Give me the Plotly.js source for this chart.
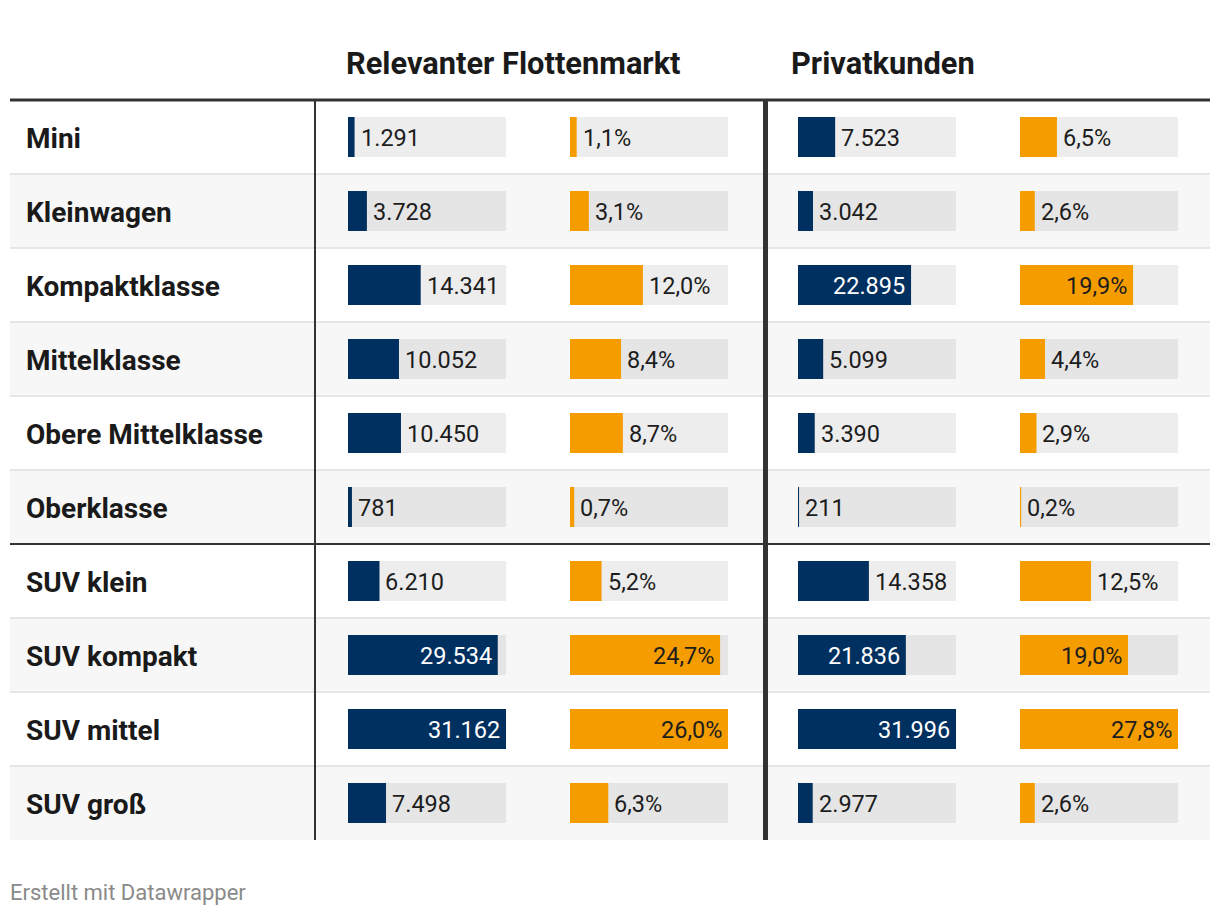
<!DOCTYPE html>
<html><head><meta charset="utf-8">
<script src="https://cdn.plot.ly/plotly-3.0.1.min.js"></script>
<style>body{margin:0;background:#fff}#chart{width:1220px;height:916px}</style>
</head><body><div id="chart"></div>
<script>
const categories = ['Mini','Kleinwagen','Kompaktklasse','Mittelklasse','Obere Mittelklasse','Oberklasse','SUV klein','SUV kompakt','SUV mittel','SUV groß'];
const flotteAnzahl = [1291,3728,14341,10052,10450,781,6210,29534,31162,7498];
const flotteAnteil = [1.1,3.1,12.0,8.4,8.7,0.7,5.2,24.7,26.0,6.3];
const privatAnzahl = [7523,3042,22895,5099,3390,211,14358,21836,31996,2977];
const privatAnteil = [6.5,2.6,19.9,4.4,2.9,0.2,12.5,19.0,27.8,2.6];
const groupTitles = ['Relevanter Flottenmarkt','Privatkunden'];
const footerText = 'Erstellt mit Datawrapper';

const W = 1220, H = 916;
const NAVY = '#00305f', ORANGE = '#f59c00';
const px = v => v / W;

function fmtInt(v){ return String(v).replace(/\B(?=(\d{3})+(?!\d))/g, '.'); }
function fmtPct(v){ return v.toFixed(1).replace('.', ',') + '%'; }

const columns = [
  {data: flotteAnzahl, color: NAVY, fmt: fmtInt, inText: '#ffffff', dom: [348, 506]},
  {data: flotteAnteil, color: ORANGE, fmt: fmtPct, inText: '#1d1d1d', dom: [570, 728]},
  {data: privatAnzahl, color: NAVY, fmt: fmtInt, inText: '#ffffff', dom: [798, 956]},
  {data: privatAnteil, color: ORANGE, fmt: fmtPct, inText: '#1d1d1d', dom: [1020, 1178]}
];

const traces = [];
const annotations = [];
const layout = {
  width: W, height: H,
  margin: {l: 0, r: 0, t: 100, b: 76},
  paper_bgcolor: '#ffffff', plot_bgcolor: 'rgba(0,0,0,0)',
  barmode: 'overlay', showlegend: false,
  font: {family: 'Roboto, sans-serif', color: '#1d1d1d'},
  yaxis: {type: 'category', categoryorder: 'array', categoryarray: categories,
          range: [categories.length - 0.5, -0.5], visible: false, fixedrange: true, domain: [0, 1]},
  annotations: annotations,
  shapes: []
};

columns.forEach((c, k) => {
  const ax = k === 0 ? 'x' : 'x' + (k + 1);
  const axName = k === 0 ? 'xaxis' : 'xaxis' + (k + 1);
  const max = Math.max(...c.data);
  layout[axName] = {domain: [px(c.dom[0]), px(c.dom[1])], range: [0, max], visible: false,
                    fixedrange: true, anchor: 'y'};
  traces.push({type: 'bar', orientation: 'h', y: categories, x: categories.map(() => max),
               xaxis: ax, yaxis: 'y', width: 0.54, marker: {color: 'rgba(0,0,0,0.07)', line: {width: 0}},
               hoverinfo: 'skip'});
  traces.push({type: 'bar', orientation: 'h', y: categories, x: c.data,
               xaxis: ax, yaxis: 'y', width: 0.54, marker: {color: c.color, line: {width: 0}},
               hoverinfo: 'skip'});
  c.data.forEach((v, i) => {
    const inside = v / max > 0.55;
    annotations.push({xref: ax, yref: 'y', x: v, y: categories[i], text: c.fmt(v),
      showarrow: false, xanchor: inside ? 'right' : 'left', xshift: inside ? -4 : 4, yshift: -1,
      font: {family: 'Roboto', size: 23.5, color: inside ? c.inText : '#1d1d1d'}});
  });
});

// row labels
categories.forEach((cat, i) => {
  annotations.push({xref: 'paper', yref: 'y', x: px(24), y: cat, text: cat, showarrow: false,
    xanchor: 'left', yshift: -1, font: {family: 'Roboto', size: 28, weight: 700, color: '#1a1a1a'}});
});

// group titles
[[groupTitles[0], 344], [groupTitles[1], 789]].forEach(([t, x]) => {
  annotations.push({xref: 'paper', yref: 'paper', x: px(x), y: 1, yshift: 37, yanchor: 'middle',
    xanchor: 'left', text: t, showarrow: false,
    font: {family: 'Roboto', size: 30.8, weight: 700, color: '#1a1a1a'}});
});

annotations.push({xref: 'paper', yref: 'paper', x: px(8), y: 0, yshift: -52, yanchor: 'middle',
  xanchor: 'left', text: footerText, showarrow: false,
  font: {family: 'Roboto', size: 22, color: '#8a8a8a'}});

// row backgrounds
const shapes = layout.shapes;
categories.forEach((cat, i) => {
  if (i % 2 === 1) shapes.push({type: 'rect', xref: 'paper', yref: 'y', x0: px(10), x1: px(1210),
    y0: i - 0.5, y1: i + 0.5, fillcolor: '#f7f7f7', line: {width: 0}, layer: 'below'});
});
for (let i = 1; i < categories.length; i++) {
  const dark = i === 6;
  shapes.push({type: 'line', xref: 'paper', yref: 'y', x0: px(10), x1: px(1210), y0: i - 0.5, y1: i - 0.5,
    line: {color: dark ? '#333333' : '#e6e6e6', width: 2}, layer: 'below'});
}
shapes.push({type: 'line', xref: 'paper', yref: 'paper', x0: px(10), x1: px(1210), y0: 1, y1: 1,
  line: {color: '#333333', width: 3}, layer: 'above'});
shapes.push({type: 'line', xref: 'paper', yref: 'paper', x0: px(315), x1: px(315), y0: 0, y1: 1,
  line: {color: '#333333', width: 2}, layer: 'above'});
shapes.push({type: 'line', xref: 'paper', yref: 'paper', x0: px(765.5), x1: px(765.5), y0: 0, y1: 1,
  line: {color: '#333333', width: 5}, layer: 'above'});

Plotly.newPlot('chart', traces, layout, {displayModeBar: false, staticPlot: true});
</script></body></html>
